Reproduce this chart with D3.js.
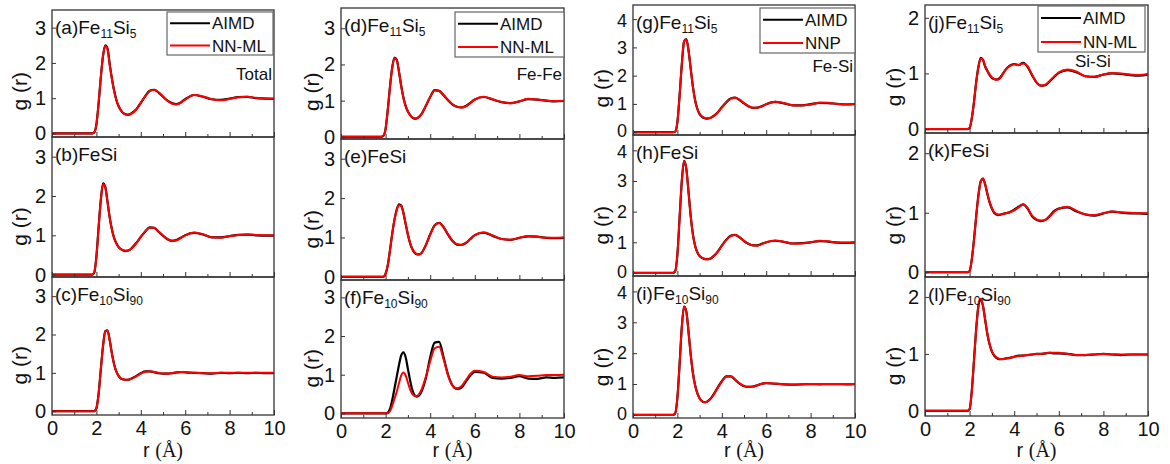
<!DOCTYPE html>
<html><head><meta charset="utf-8">
<script src="https://cdn.jsdelivr.net/npm/d3@7"></script>
<style>
body{margin:0;background:#fff;}
svg{display:block;}
text{font-family:Arial,"Liberation Sans",sans-serif;fill:#111;}
</style>
</head><body>
<svg id="chart" width="1170" height="464"></svg>
<script>
// ---------- DATA ----------
const R = [0,1.8,1.9,2.0,2.1,2.2,2.3,2.4,2.5,2.6,2.7,2.8,2.9,3.0,3.1,3.2,3.3,3.4,3.5,3.6,
           3.8,4.0,4.2,4.4,4.6,4.8,5.0,5.2,5.4,5.6,5.8,6.0,6.4,6.8,7.2,7.6,8.0,8.4,8.8,9.2,9.6,10];

// (a) Total Fe11Si5
const aimd_a = [0,0,0.03,0.26,0.86,1.6,2.21,2.5,2.41,1.96,1.55,1.21,0.95,0.77,0.66,0.58,0.55,0.53,0.54,0.58,
  0.69,0.87,1.06,1.21,1.24,1.16,1.04,0.93,0.86,0.83,0.88,0.97,1.09,1.04,0.97,0.95,0.99,1.03,1.04,1.0,0.99,0.98];
const nnml_a = [0,0,0.03,0.25,0.85,1.6,2.2,2.48,2.4,1.95,1.55,1.2,0.95,0.78,0.66,0.58,0.54,0.53,0.54,0.57,
  0.68,0.87,1.05,1.2,1.24,1.17,1.05,0.93,0.85,0.82,0.87,0.96,1.09,1.05,0.97,0.94,0.98,1.03,1.04,1.01,0.99,0.99];
// (b) Total FeSi
const aimd_b = [0,0,0.05,0.46,1.21,1.91,2.32,2.23,1.86,1.45,1.15,0.93,0.8,0.7,0.65,0.62,0.6,0.61,0.63,0.68,
  0.81,0.96,1.1,1.2,1.19,1.09,0.99,0.9,0.86,0.88,0.94,1.0,1.06,1.02,0.95,0.95,0.98,1.01,1.02,1.0,0.99,0.99];
const nnml_b = [0,0,0.05,0.45,1.2,1.9,2.3,2.22,1.85,1.45,1.15,0.93,0.79,0.7,0.65,0.62,0.61,0.61,0.63,0.67,
  0.8,0.96,1.1,1.19,1.19,1.1,0.99,0.91,0.86,0.87,0.93,1.0,1.07,1.03,0.95,0.94,0.98,1.01,1.02,1.01,1.0,1.0];
// (c) Total Fe10Si90
const aimd_c = [0,0,0,0.08,0.46,1.1,1.71,2.09,2.11,1.85,1.5,1.22,1.03,0.92,0.85,0.83,0.82,0.82,0.83,0.86,
  0.92,0.99,1.04,1.04,1.02,0.99,0.98,0.98,0.99,1.01,1.02,1.01,1.0,0.99,0.98,1.0,0.99,1.0,0.99,1.0,0.99,0.99];
const nnml_c = [0,0,0,0.08,0.45,1.1,1.7,2.08,2.1,1.85,1.5,1.22,1.03,0.92,0.86,0.83,0.82,0.82,0.83,0.85,
  0.91,0.98,1.03,1.04,1.02,1.0,0.98,0.98,0.99,1.01,1.02,1.02,1.0,0.99,0.99,1.0,1.0,1.0,1.0,1.0,1.0,1.0];
// (d) Fe-Fe Fe11Si5
const aimd_d = [0,0,0.03,0.22,0.76,1.41,1.93,2.19,2.13,1.8,1.41,1.08,0.85,0.7,0.6,0.53,0.5,0.51,0.55,0.62,
  0.85,1.1,1.29,1.27,1.15,1.01,0.89,0.83,0.81,0.85,0.94,1.03,1.1,1.03,0.96,0.93,0.98,1.04,1.03,1.0,0.98,0.99];
const nnml_d = [0,0,0.03,0.22,0.75,1.4,1.92,2.18,2.12,1.8,1.4,1.08,0.85,0.7,0.6,0.54,0.51,0.51,0.55,0.62,
  0.85,1.1,1.28,1.27,1.16,1.02,0.9,0.83,0.81,0.84,0.93,1.03,1.11,1.04,0.96,0.93,0.98,1.05,1.03,1.0,0.99,1.0];
// (e) Fe-Fe FeSi
const aimd_e = [0,0,0,0.08,0.3,0.69,1.11,1.46,1.71,1.84,1.81,1.62,1.34,1.07,0.85,0.7,0.61,0.57,0.57,0.6,
  0.8,1.08,1.31,1.37,1.26,1.07,0.91,0.82,0.81,0.86,0.96,1.06,1.12,1.04,0.96,0.94,0.99,1.03,1.02,0.99,0.98,0.99];
const nnml_e = [0,0,0,0.08,0.3,0.68,1.1,1.45,1.7,1.82,1.8,1.62,1.35,1.08,0.86,0.71,0.62,0.58,0.57,0.6,
  0.8,1.07,1.3,1.37,1.27,1.08,0.92,0.83,0.81,0.86,0.97,1.06,1.13,1.05,0.96,0.94,0.99,1.04,1.02,0.99,0.99,1.0];
// (f) Fe-Fe Fe10Si90
const aimd_f = [0,0,0,0,0.02,0.12,0.35,0.65,0.95,1.25,1.5,1.58,1.45,1.15,0.85,0.6,0.47,0.43,0.46,0.55,
  0.9,1.45,1.83,1.85,1.45,1.0,0.72,0.63,0.66,0.82,0.98,1.07,1.05,0.92,0.9,0.92,0.96,0.9,0.89,0.93,0.92,0.93];
const nnml_f = [0,0,0,0,0,0.06,0.2,0.38,0.56,0.78,0.98,1.06,0.98,0.8,0.62,0.5,0.45,0.45,0.5,0.6,
  0.93,1.35,1.68,1.72,1.4,0.98,0.72,0.65,0.7,0.86,1.02,1.1,1.07,0.95,0.93,0.95,0.99,0.96,0.97,0.99,0.99,1.0];
// (g) Fe-Si Fe11Si5
const aimd_g = [0,0,0.02,0.36,1.31,2.41,3.21,3.29,2.9,2.25,1.6,1.12,0.82,0.64,0.55,0.5,0.48,0.49,0.51,0.56,
  0.69,0.88,1.06,1.19,1.22,1.14,1.02,0.92,0.86,0.87,0.92,0.99,1.07,1.02,0.95,0.95,0.99,1.04,1.03,1.0,0.98,0.99];
const nnml_g = [0,0,0.02,0.35,1.3,2.4,3.2,3.28,2.9,2.25,1.6,1.12,0.82,0.65,0.56,0.51,0.49,0.49,0.51,0.55,
  0.68,0.87,1.05,1.18,1.22,1.15,1.03,0.92,0.86,0.86,0.91,0.99,1.08,1.03,0.95,0.94,0.98,1.04,1.04,1.0,0.99,1.0];
// (h) Fe-Si FeSi
const aimd_h = [0,0,0.05,0.61,1.81,3.01,3.66,3.41,2.65,1.85,1.25,0.88,0.67,0.55,0.49,0.46,0.45,0.45,0.47,0.53,
  0.68,0.89,1.08,1.21,1.24,1.16,1.04,0.95,0.9,0.9,0.95,1.0,1.05,1.01,0.96,0.97,1.0,1.04,1.02,0.99,0.98,1.0];
const nnml_h = [0,0,0.05,0.6,1.8,3.0,3.65,3.4,2.65,1.85,1.25,0.88,0.67,0.56,0.5,0.47,0.45,0.45,0.47,0.52,
  0.67,0.88,1.07,1.2,1.24,1.17,1.05,0.95,0.9,0.89,0.94,1.0,1.06,1.02,0.96,0.96,1.0,1.05,1.03,0.99,0.99,1.01];
// (i) Fe-Si Fe10Si90
const aimd_i = [0,0,0.05,0.56,1.66,2.86,3.51,3.36,2.7,1.95,1.35,0.95,0.7,0.54,0.45,0.41,0.42,0.46,0.53,0.63,
  0.87,1.09,1.25,1.25,1.14,1.01,0.93,0.91,0.92,0.96,1.01,1.03,1.01,0.99,0.98,0.99,1.0,0.99,1.0,1.0,0.99,1.0];
const nnml_i = [0,0,0.05,0.55,1.65,2.85,3.5,3.35,2.7,1.95,1.35,0.95,0.7,0.54,0.45,0.41,0.42,0.46,0.53,0.62,
  0.86,1.08,1.24,1.25,1.15,1.02,0.94,0.91,0.92,0.96,1.01,1.03,1.02,0.99,0.98,0.99,1.0,1.0,1.0,1.0,1.0,1.0];
// (j) Si-Si Fe11Si5
const aimd_j = [0,0,0,0.02,0.2,0.5,0.86,1.13,1.28,1.24,1.12,1.04,0.97,0.92,0.9,0.89,0.9,0.94,1.0,1.06,
  1.14,1.17,1.15,1.19,1.12,0.97,0.84,0.78,0.79,0.86,0.94,1.01,1.06,1.02,0.95,0.94,0.98,1.0,0.99,0.97,0.96,0.98];
const nnml_j = [0,0,0,0.02,0.2,0.5,0.85,1.12,1.27,1.25,1.13,1.05,0.98,0.93,0.9,0.89,0.89,0.93,1.0,1.06,
  1.13,1.16,1.15,1.18,1.13,0.98,0.84,0.78,0.8,0.87,0.95,1.02,1.07,1.03,0.95,0.94,0.98,1.01,1.0,0.98,0.97,0.99];
// (k) Si-Si FeSi
const aimd_k = [0,0,0,0.02,0.22,0.56,0.96,1.31,1.53,1.57,1.47,1.31,1.17,1.07,1.0,0.97,0.96,0.97,0.98,0.99,
  1.01,1.05,1.1,1.14,1.07,0.94,0.88,0.86,0.88,0.95,1.03,1.07,1.09,1.02,0.97,0.95,0.99,1.02,1.0,0.99,0.99,0.98];
const nnml_k = [0,0,0,0.02,0.22,0.55,0.95,1.3,1.52,1.58,1.48,1.32,1.18,1.08,1.01,0.98,0.97,0.97,0.98,0.99,
  1.01,1.04,1.09,1.14,1.08,0.95,0.89,0.87,0.88,0.94,1.02,1.07,1.1,1.03,0.97,0.96,0.99,1.02,1.01,1.0,0.99,0.99];
// (l) Si-Si Fe10Si90
const aimd_l = [0,0,0,0.03,0.36,0.91,1.46,1.86,1.96,1.84,1.59,1.34,1.16,1.04,0.97,0.93,0.91,0.91,0.91,0.92,
  0.93,0.95,0.97,0.97,0.98,0.99,1.0,1.0,1.01,1.02,1.01,1.01,1.0,0.98,0.98,0.99,1.0,0.99,0.98,0.99,0.99,0.99];
const nnml_l = [0,0,0,0.03,0.35,0.9,1.45,1.85,1.97,1.85,1.6,1.35,1.17,1.05,0.98,0.94,0.92,0.91,0.91,0.92,
  0.93,0.95,0.96,0.97,0.98,0.99,1.0,1.0,1.01,1.02,1.02,1.02,1.0,0.98,0.98,0.99,1.0,0.99,0.99,0.99,0.99,0.99];

const xTickLabels = [0,2,4,6,8,10];
const xMinorTicks = [1,3,5,7,9];
const yTicksByCol = [[0,1,2,3],[0,1,2,3],[0,1,2,3,4],[0,1,2]];
const legendNames = [["AIMD","NN-ML"],["AIMD","NN-ML"],["AIMD","NNP"],["AIMD","NN-ML"]];
const pairNames = ["Total","Fe-Fe","Fe-Si","Si-Si"];
const letters = ["a","b","c","d","e","f","g","h","i","j","k","l"];
const systemNames = [ [["Fe",0],["11",1],["Si",0],["5",1]], [["FeSi",0]], [["Fe",0],["10",1],["Si",0],["90",1]] ];
const seriesAIMD = [[aimd_a,aimd_b,aimd_c],[aimd_d,aimd_e,aimd_f],[aimd_g,aimd_h,aimd_i],[aimd_j,aimd_k,aimd_l]];
const seriesNN   = [[nnml_a,nnml_b,nnml_c],[nnml_d,nnml_e,nnml_f],[nnml_g,nnml_h,nnml_i],[nnml_j,nnml_k,nnml_l]];

// ---------- LAYOUT ----------
const colX = [[52,274],[341,564],[633,855],[925,1148]];
const rowY = [
  [[10,137],[137,277],[277,415]],
  [[8,139],[139,280],[280,418]],
  [[5,135],[135,276],[276,418]],
  [[5,133],[133,277],[277,416]]
];
const yDom = [
  [[-0.1,3.5],[-0.06,3.5],[-0.1,3.5]],
  [[-0.06,3.56],[-0.08,3.5],[-0.12,3.45]],
  [[-0.1,4.5],[-0.1,4.5],[-0.1,4.5]],
  [[-0.07,2.23],[-0.08,2.34],[-0.09,2.35]]
];
const yTickFont = [20,20,18,20];
const yTitleX = [20,312,602,894];
const legendBox = [[167,12,106,43],[455,12,109,45],[760,8,95,45],[1038,6,107,46]];
const pairPos = [[272,80,"end"],[562,80,"end"],[853,72,"end"],[1075,67,"start"]];

const svg = d3.select("#chart");
const frameColor = "#333";
const FONT = "Arial, 'Liberation Sans', sans-serif";

for (let c = 0; c < 4; c++) {
  const x = d3.scaleLinear().domain([0,10]).range(colX[c]);
  for (let r = 0; r < 3; r++) {
    const [top, bot] = rowY[c][r];
    const y = d3.scaleLinear().domain(yDom[c][r]).range([bot, top]);
    const id = "clip" + c + r;
    svg.append("clipPath").attr("id", id).append("rect")
      .attr("x", colX[c][0]).attr("y", top)
      .attr("width", colX[c][1]-colX[c][0]).attr("height", bot-top);
    const g = svg.append("g");
    const line = d3.line().x((d,i)=>x(R[i])).y(d=>y(d)).curve(d3.curveMonotoneX);
    const cg = g.append("g").attr("clip-path","url(#"+id+")");
    cg.append("path").datum(seriesAIMD[c][r]).attr("d", line)
      .attr("fill","none").attr("stroke","#000").attr("stroke-width",2.2);
    cg.append("path").datum(seriesNN[c][r]).attr("d", line)
      .attr("fill","none").attr("stroke","#ff0000").attr("stroke-width",2);

    // y axis
    const yt = yTicksByCol[c];
    const ya = d3.axisLeft(y).tickValues(yt).tickSize(-4).tickPadding(6).tickFormat(d3.format("d"));
    const yg = g.append("g").attr("transform","translate("+colX[c][0]+",0)").call(ya);
    yg.select(".domain").remove();
    yg.selectAll("line").attr("stroke",frameColor);
    yg.selectAll("text").attr("font-size",yTickFont[c]).attr("font-family",FONT).attr("fill","#111");
    if (c === 2) {
      yg.selectAll(".tick").filter(d => d === yt[yt.length-1]).select("text").attr("transform","translate(0,1.5)");
      yg.selectAll(".tick").filter(d => d === 0).select("text").attr("transform","translate(0,-1.5)");
    }

    // x axis ticks
    const xa = d3.axisBottom(x).tickValues(xTickLabels).tickSize(-5).tickPadding(6)
      .tickFormat(r === 2 ? d3.format("d") : () => "");
    const xg = g.append("g").attr("transform","translate(0,"+bot+")").call(xa);
    xg.select(".domain").remove();
    xg.selectAll("line").attr("stroke",frameColor);
    xg.selectAll("text").attr("font-size",20).attr("font-family",FONT).attr("fill","#111");
    const xm = d3.axisBottom(x).tickValues(xMinorTicks).tickSize(-3).tickFormat(()=> "");
    const xmg = g.append("g").attr("transform","translate(0,"+bot+")").call(xm);
    xmg.select(".domain").remove();
    xmg.selectAll("line").attr("stroke",frameColor);

    // frame
    g.append("rect").attr("x",colX[c][0]).attr("y",top)
      .attr("width",colX[c][1]-colX[c][0]).attr("height",bot-top)
      .attr("fill","none").attr("stroke",frameColor).attr("stroke-width",1.3);

    // panel label
    const lt = g.append("text").attr("x", colX[c][0]+3).attr("y", top+24).attr("font-size",19);
    lt.append("tspan").text("(" + letters[c*3+r] + ")");
    let shifted = false;
    systemNames[r].forEach(([t, sub]) => {
      if (sub) { lt.append("tspan").attr("font-size",12).attr("dy",4).text(t); shifted = true; }
      else { lt.append("tspan").attr("dy", shifted ? -4 : 0).text(t); shifted = false; }
    });

    // y title
    const cy = top + 0.64*(bot-top);
    g.append("text").attr("transform","translate("+yTitleX[c]+","+cy+") rotate(-90)")
      .attr("text-anchor","middle").attr("dy","0.35em").attr("font-size",21).text("g (r)");
  }
  // x title
  const xt = svg.append("text").attr("x", (colX[c][0]+colX[c][1])/2).attr("y", 457)
    .attr("text-anchor","middle").attr("font-size",20);
  xt.append("tspan").text("r ");
  xt.append("tspan").attr("font-family","'Liberation Serif','DejaVu Serif',serif").text("(Å)");

  // legend
  const [lx, ly, lw, lh] = legendBox[c];
  const lg = svg.append("g");
  lg.append("rect").attr("x",lx).attr("y",ly).attr("width",lw).attr("height",lh)
    .attr("fill","#fff").attr("stroke","#666").attr("stroke-width",1.2);
  const rowsY = [ly + lh*0.26, ly + lh*0.78];
  const colors = ["#000","#ff0000"];
  legendNames[c].forEach((name, i) => {
    lg.append("line").attr("x1",lx+3).attr("x2",lx+43).attr("y1",rowsY[i]).attr("y2",rowsY[i])
      .attr("stroke",colors[i]).attr("stroke-width",2);
    lg.append("text").attr("x",lx+45).attr("y",rowsY[i]).attr("dy","0.36em")
      .attr("font-size",17).text(name);
  });
  // pair label
  svg.append("text").attr("x",pairPos[c][0]).attr("y",pairPos[c][1])
    .attr("text-anchor",pairPos[c][2]).attr("font-size",17).text(pairNames[c]);
}
</script>
</body></html>
